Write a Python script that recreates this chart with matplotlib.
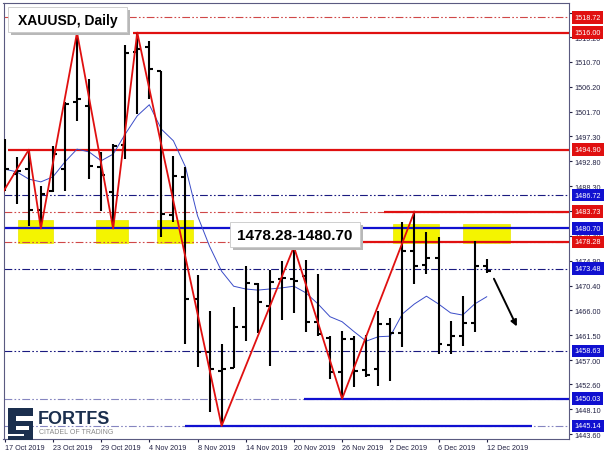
import matplotlib
matplotlib.use("Agg")
import matplotlib.pyplot as plt
from matplotlib.patches import Rectangle
from matplotlib.transforms import blended_transform_factory

plt.rcParams["font.family"] = ["Liberation Sans", "DejaVu Sans"]

# =========================
# DATA (XAUUSD daily, 17 Oct - 12 Dec 2019)
# =========================

opens = [1493.2, 1490.5, 1491.4, 1484.0, 1487.4, 1491.4, 1503.5, 1502.8, 1491.8, 1487.3,
         1495.7, 1512.5, 1513.4, 1509.0, 1483.1, 1490.0, 1468.0, 1458.4, 1455.0, 1455.6,
         1463.0, 1470.7, 1466.7, 1471.6, 1471.6, 1472.1, 1463.9, 1461.0, 1454.8, 1460.8,
         1455.2, 1455.4, 1463.5, 1461.9, 1476.6, 1474.1, 1475.4, 1459.7, 1461.3, 1463.7,
         1473.9]
highs = [1496.8, 1493.6, 1494.9, 1488.4, 1495.6, 1503.5, 1516.0, 1507.6, 1494.5, 1495.9,
         1513.8, 1516.0, 1514.5, 1509.1, 1493.8, 1491.8, 1472.3, 1465.8, 1459.9, 1466.6,
         1473.9, 1470.9, 1473.2, 1474.8, 1477.4, 1475.0, 1472.5, 1461.3, 1462.2, 1461.3,
         1461.5, 1465.8, 1464.6, 1481.9, 1483.7, 1480.1, 1479.2, 1464.0, 1468.5, 1478.4,
         1475.2]
lows = [1487.5, 1485.1, 1481.2, 1480.7, 1487.3, 1487.5, 1500.1, 1489.6, 1483.9, 1480.7,
        1493.2, 1501.3, 1504.0, 1479.2, 1481.9, 1459.9, 1455.8, 1447.6, 1445.1, 1455.6,
        1460.4, 1461.9, 1455.9, 1464.2, 1465.5, 1462.1, 1461.3, 1453.6, 1450.0, 1452.1,
        1454.0, 1452.3, 1453.2, 1459.3, 1470.7, 1472.5, 1458.1, 1458.1, 1459.5, 1462.1,
        1472.7]
closes = [1491.4, 1491.1, 1484.0, 1486.9, 1494.1, 1503.1, 1504.0, 1492.0, 1490.3, 1495.6,
          1512.3, 1513.0, 1509.4, 1483.3, 1490.2, 1468.0, 1458.4, 1455.4, 1455.4, 1463.0,
          1470.9, 1467.5, 1471.1, 1471.8, 1471.2, 1463.9, 1461.7, 1454.8, 1460.8, 1455.0,
          1454.3, 1463.5, 1461.9, 1476.6, 1473.9, 1475.4, 1459.9, 1461.3, 1463.7, 1473.9,
          1473.0]

# moving average
ma = [1491.4, 1490.9, 1489.6, 1489.1, 1490.0, 1492.7, 1495.0, 1494.5, 1492.9, 1494.1,
      1497.7, 1501.0, 1503.0, 1498.6, 1496.5, 1491.8, 1483.0, 1477.5, 1473.0, 1470.3,
      1469.8, 1469.6, 1469.8, 1470.0, 1470.3, 1469.1, 1467.1, 1464.8, 1463.9, 1462.1,
      1460.4, 1461.2, 1461.3, 1465.3, 1467.1, 1468.5, 1467.1, 1465.5, 1465.1, 1467.1,
      1468.4]

# zigzag swing points (bar index, price)
zz_idx = [-0.1, 2, 3, 6, 9, 11, 18, 24, 28, 34]
zz_price = [1487.4, 1494.9, 1480.7, 1516.0, 1480.7, 1516.0, 1445.14, 1477.4, 1450.03, 1483.73]

# date labels every 4 bars
date_idx = [0, 4, 8, 12, 16, 20, 24, 28, 32, 36, 40]
date_labels = ["17 Oct 2019", "23 Oct 2019", "29 Oct 2019", "4 Nov 2019", "8 Nov 2019",
               "14 Nov 2019", "20 Nov 2019", "26 Nov 2019", "2 Dec 2019", "6 Dec 2019",
               "12 Dec 2019"]

# price scale
price_ticks = [1443.60, 1448.10, 1452.60, 1457.00, 1461.50, 1466.00, 1470.40, 1474.90,
               1479.40, 1483.80, 1488.30, 1492.80, 1497.30, 1501.70, 1506.20, 1510.70,
               1515.20, 1519.60]

# key levels
red_levels = [1518.72, 1516.00, 1494.90, 1483.73, 1478.28]
blue_levels = [1486.72, 1480.70, 1473.48, 1458.63, 1450.03, 1445.14]

# yellow zones (bar index from/to, price top)
zone_from = [1.1, 7.6, 12.6, 32.2, 38.0]
zone_to = [4.0, 10.2, 15.6, 36.0, 41.9]
zone_top = [1482.3, 1482.3, 1482.3, 1481.5, 1481.5]
zone_bottom = 1478.1

# =========================
# FIGURE
# =========================

W, H = 604, 452
fig = plt.figure(figsize=(W / 100, H / 100), dpi=100)
ax = fig.add_axes([3.5 / W, 1 - 440 / H, (569 - 3.5) / W, (440 - 4) / H])
ax.set_xlim(-0.1, 46.83)
ax.set_ylim(1442.77, 1521.33)

RED = "#e01010"
BLUE = "#1010d0"
NAVY = "#1a1a80"
dd = (0, (7, 2, 1.5, 2, 1.5, 2))
FS = 5.2

# yellow zones
for a, b, t in zip(zone_from, zone_to, zone_top):
    ax.add_patch(Rectangle((a, zone_bottom), b - a, t - zone_bottom,
                           facecolor="#f4f400", edgecolor="#e8e800", lw=0.5, zorder=1))

# dash-dot reference lines
ax.axhline(1518.72, color="#d04848", lw=0.8, ls=dd, zorder=2)
ax.axhline(1483.73, color="#d04848", lw=0.8, ls=dd, zorder=2)
ax.axhline(1478.28, color="#d04848", lw=0.8, ls=dd, zorder=2)
for lv in [1486.72, 1473.48, 1458.63]:
    ax.axhline(lv, color=NAVY, lw=0.8, ls=dd, zorder=2)
for lv in [1450.03, 1445.14]:
    ax.axhline(lv, color="#8585c0", lw=0.8, ls=dd, zorder=2)

# solid levels
ax.hlines(1516.00, 10.65, 46.83, color=RED, lw=1.6, zorder=2)
ax.hlines(1494.90, 0.27, 46.83, color=RED, lw=1.6, zorder=2)
ax.hlines(1483.73, 31.5, 46.83, color=RED, lw=1.6, zorder=2)
ax.hlines(1478.28, 29.5, 46.83, color=RED, lw=1.6, zorder=2)
ax.hlines(1480.70, -0.1, 46.83, color=BLUE, lw=1.6, zorder=2)
ax.hlines(1450.03, 24.8, 46.83, color=BLUE, lw=1.6, zorder=2)
ax.hlines(1445.14, 15.0, 43.8, color=BLUE, lw=1.6, zorder=2)

# moving average
idx = list(range(len(closes)))
ax.plot(idx, ma, color="#3a4cc8", lw=0.7, zorder=3)

# OHLC bars
ax.vlines(idx, lows, highs, color="black", lw=1.5, zorder=4)
ax.hlines(opens, [i - 0.33 for i in idx], idx, color="black", lw=1.5, zorder=4)
ax.hlines(closes, idx, [i + 0.33 for i in idx], color="black", lw=1.5, zorder=4)

# zigzag
ax.plot(zz_idx, zz_price, color=RED, lw=1.3, zorder=5)

# arrow
ax.annotate("", xy=(42.6, 1462.6), xytext=(40.5, 1472.1),
            arrowprops=dict(arrowstyle="-|>", color="black", lw=1.4, mutation_scale=9),
            zorder=6)

# =========================
# AXES STYLE
# =========================

for s in ax.spines.values():
    s.set_color("#5a5a80")
    s.set_linewidth(0.8)

ax.yaxis.tick_right()
ax.set_yticks(price_ticks)
ax.set_yticklabels([f"{t:.2f}" for t in price_ticks])
ax.tick_params(axis="y", labelsize=FS, length=2.5, pad=1.5, colors="#222244")

ax.set_xticks(date_idx)
ax.set_xticklabels(date_labels, ha="left")
ax.tick_params(axis="x", labelsize=FS, length=2.5, pad=1, colors="#222244")

trans = blended_transform_factory(ax.transAxes, ax.transData)
for levels, col in [(red_levels, RED), (blue_levels, BLUE)]:
    for lv in levels:
        ax.text(1.0095, lv, f"{lv:.2f}", transform=trans, fontsize=FS,
                color="white", va="center", ha="left", clip_on=False, zorder=10,
                bbox=dict(boxstyle="square,pad=0.38", fc=col, ec="none"))


# =========================
# BOXES AND LOGO (figure pixels)
# =========================

def px_rect(x0, y0, x1, y1, **kw):
    r = Rectangle((x0 / W, 1 - y1 / H), (x1 - x0) / W, (y1 - y0) / H,
                  transform=fig.transFigure, **kw)
    fig.add_artist(r)
    return r


# title box
px_rect(11, 11, 130, 36, fc="#b8b8b8", ec="none", zorder=20)
px_rect(8, 8, 127, 33, fc="white", ec="#c8c8c8", lw=0.6, zorder=21)
fig.text(67.5 / W, 1 - 20.5 / H, "XAUUSD, Daily", fontsize=10, fontweight="bold",
         ha="center", va="center", zorder=22)

# zone annotation box
px_rect(233, 226, 363, 251, fc="#b8b8b8", ec="none", zorder=20)
px_rect(230, 223, 360, 248, fc="white", ec="#c8c8c8", lw=0.6, zorder=21)
fig.text(295 / W, 1 - 236 / H, "1478.28-1480.70", fontsize=11, fontweight="bold",
         ha="center", va="center", zorder=22)

# logo
LOGO = "#1b2f4e"
px_rect(8, 409, 33, 441, fc=LOGO, ec="none", zorder=20)
px_rect(16, 417, 33, 422, fc="white", ec="none", zorder=21)
px_rect(16, 427, 29, 431, fc="white", ec="none", zorder=21)
px_rect(8, 435, 24, 437, fc="white", ec="none", zorder=21)
fig.text(38 / W, 1 - 419 / H, "FORTFS", fontsize=13, fontweight="bold", color=LOGO,
         ha="left", va="center", zorder=22)
fig.text(39 / W, 1 - 433 / H, "CITADEL OF TRADING", fontsize=5, color="#8a8a8a",
         ha="left", va="center", zorder=22)

fig.savefig("out.png", dpi=100)
